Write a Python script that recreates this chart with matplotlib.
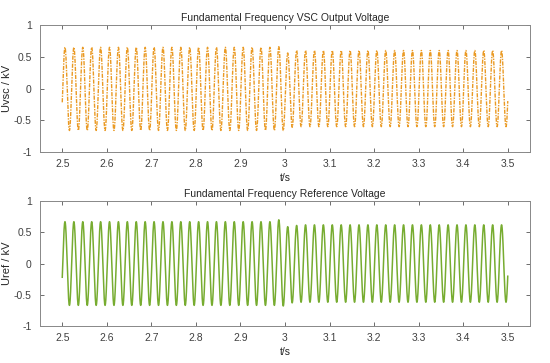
import numpy as np
import matplotlib
matplotlib.use('Agg')
import matplotlib.pyplot as plt
from matplotlib.ticker import FormatStrFormatter

plt.rcParams['font.family'] = ['Liberation Sans', 'DejaVu Sans']

# values
t_start = 2.5
t_end = 3.5
freq = 50.0            # Hz, 50 cycles in 1 s
phase0 = -0.334        # rad, starts near -0.22 rising

# peak / trough per cycle
vsc_peaks = [0.65] * 25 + [0.66, 0.56] + [0.60] * 24
vsc_troughs = [-0.66] * 26 + [-0.61] + [-0.60] * 24
ref_peaks = [0.67] * 25 + [0.70, 0.59, 0.61] + [0.62] * 23
ref_troughs = [-0.67] * 25 + [-0.68, -0.63] + [-0.62] * 24

xticks = [2.5, 2.6, 2.7, 2.8, 2.9, 3.0, 3.1, 3.2, 3.3, 3.4, 3.5]
yticks = [-1, -0.5, 0, 0.5, 1]


def wave(peaks, troughs):
    t = np.linspace(t_start, t_end, 20001)
    ph = 2 * np.pi * freq * (t - t_start) + phase0
    s = np.sin(ph)
    cyc = np.floor(ph / (2 * np.pi)).astype(int) + 1
    cyc = np.clip(cyc, 0, len(peaks) - 1)
    amp = np.where(s >= 0, np.array(peaks)[cyc], -np.array(troughs)[cyc])
    return t, amp * s


fig = plt.figure(figsize=(5.5, 3.63), dpi=100)
ax1 = fig.add_axes([0.0727, 0.581, 0.891, 0.350])
ax2 = fig.add_axes([0.0727, 0.102, 0.891, 0.344])

t1, u1 = wave(vsc_peaks, vsc_troughs)
ax1.plot(t1, u1, color='#EA9A24', linestyle=(0, (3, 0.9, 1, 0.9)), linewidth=1.0)
ax1.set_title('Fundamental Frequency VSC Output Voltage', fontsize=7.5, pad=3, color='#262626')
ax1.set_ylabel('Uvsc / kV', fontsize=8, color='#262626')

t2, u2 = wave(ref_peaks, ref_troughs)
ax2.plot(t2, u2, color='#77AC30', linewidth=1.1)
ax2.set_title('Fundamental Frequency Reference Voltage', fontsize=7.5, pad=3, color='#262626')
ax2.set_ylabel('Uref / kV', fontsize=8, color='#262626')

for ax in [ax1, ax2]:
    ax.set_xlim(2.45, 3.55)
    ax.set_ylim(-1, 1)
    ax.set_xticks(xticks)
    ax.set_yticks(yticks)
    ax.xaxis.set_major_formatter(FormatStrFormatter('%g'))
    ax.yaxis.set_major_formatter(FormatStrFormatter('%g'))
    ax.tick_params(direction='in', top=True, right=True, length=3,
                   width=0.6, labelsize=7.5, labelcolor='#404040', color='#555555')
    ax.tick_params(axis='x', pad=5)
    ax.tick_params(axis='y', pad=6)
    ax.yaxis.set_label_coords(-0.058, 0.5)
    ax.set_xlabel('t/s', fontsize=7.5, labelpad=3, color='#262626')
    for sp in ax.spines.values():
        sp.set_color('#888888')
        sp.set_linewidth(0.7)

fig.savefig('out.png', dpi=100)
